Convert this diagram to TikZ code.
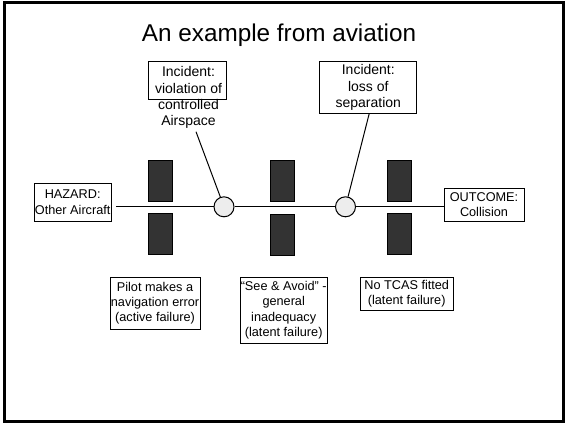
\documentclass[tikz,border=0pt]{standalone}
\usepackage{fontspec}
\setmainfont{Liberation Sans}
\begin{document}
\begin{tikzpicture}[x=1pt,y=-1pt,
  box/.style={draw=black, line width=1pt, inner sep=0pt, align=center,
    font=\fontsize{12.7}{15.3}\selectfont},
  inctext/.style={inner sep=0pt, align=center, font=\fontsize{14}{16.2}\selectfont},
  incbox/.style={box, font=\fontsize{14}{16.2}\selectfont},
  barrier/.style={draw=black, fill=black!80, line width=0.6pt},
  junction/.style={circle, draw=black, fill=black!7, line width=1pt,
    minimum size=20pt, inner sep=0pt},
  conn/.style={line width=1pt}]
\useasboundingbox (0,0) rectangle (566,424);
\draw[line width=3pt] (4.5,2.5) rectangle (563.5,421);

% title
\node[inner sep=0pt, anchor=base, font=\fontsize{24.3}{28}\selectfont] (title) at (279,41.7) {An example from aviation};

% barriers
\draw[barrier] (148.3,160) rectangle (172.7,201.7);
\draw[barrier] (148.3,213.3) rectangle (172.7,254.3);
\draw[barrier] (270.7,160) rectangle (294.7,201.7);
\draw[barrier] (270.7,214.3) rectangle (294.7,255.3);
\draw[barrier] (387.7,160) rectangle (411.7,201.7);
\draw[barrier] (387.7,213.3) rectangle (411.7,254.3);

% hazard and outcome
\node[box, minimum width=76.7pt, minimum height=37.7pt] (hazard) at (72.7,202.2) {HAZARD:\\Other Aircraft};
\node[box, minimum width=80pt, minimum height=32.7pt] (outcome) at (484,204.7) {OUTCOME:\\Collision};

% junctions
\node[junction] (c1) at (224,206.8) {};
\node[junction] (c2) at (345.5,206.8) {};

% main line
\draw[conn, shorten <=4.7pt] (hazard.east |- c1) -- (c1);
\draw[conn] (c1) -- (c2);
\draw[conn] (c2) -- (outcome.west |- c2);

% incident 1
\node[draw=black, line width=1pt, minimum width=78pt, minimum height=37.6pt, inner sep=0pt] (inc1box) at (187,80.5) {};
\node[inctext] (inc1) at (188.5,97.6) {Incident:\\violation of\\controlled\\Airspace};
\coordinate (inc1end) at (196,131.7);
\draw[conn] (inc1end) -- (c1);

% incident 2
\node[incbox, minimum width=96.7pt, minimum height=51.6pt] (inc2) at (368.3,87.5) {Incident:\\loss of\\separation};
\coordinate (inc2end) at (369.3,113.3);
\draw[conn] (inc2end) -- (c2);

% failure boxes
\node[box, minimum width=90pt, minimum height=52pt] (pilot) at (155,303.3) {Pilot makes a\\navigation error\\(active failure)};
\node[box, minimum width=87.3pt, minimum height=66pt] (see) at (283.7,310.3) {“See \& Avoid” -\\general\\inadequacy\\(latent failure)};
\node[box, minimum width=93.3pt, minimum height=33.4pt] (tcas) at (406.7,294) {No TCAS fitted\\(latent failure)};
\end{tikzpicture}
\end{document}
